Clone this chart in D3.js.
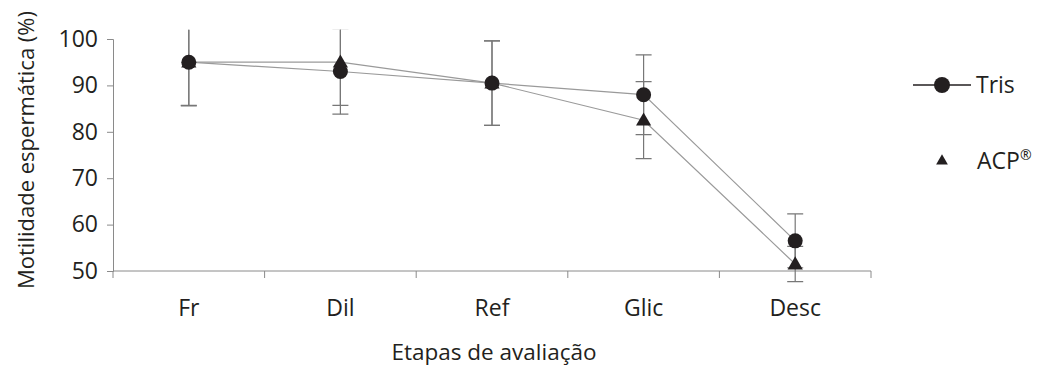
<!DOCTYPE html>
<html lang="pt">
<head>
<meta charset="utf-8">
<title>Motilidade espermática</title>
<script src="https://d3js.org/d3.v7.min.js"></script>
<style>
  body { margin: 0; background: #fff; }
  text { font-family: "Open Sans", Lato, sans-serif; fill: #231f20; }
</style>
</head>
<body>
<div id="chart"></div>
<script>
// stages of evaluation
var etapas = ["Fr", "Dil", "Ref", "Glic", "Desc"];
var yTicks = [50, 60, 70, 80, 90, 100];

// mean motility (%) and error (sd) per diluent
var trisMedia = [95, 93, 90.5, 88, 56.5];
var trisErro  = [9.4, 9.2, 9.1, 8.6, 5.8];
var acpMedia  = [95, 95, 90.5, 82.5, 51.5];
var acpErro   = [9.3, 9.3, 9.1, 8.3, 3.8];

var w = 1051, h = 370;
var margin = {top: 39, left: 113, right: 180, bottom: 99};
var innerW = 758, innerH = h - margin.top - margin.bottom;

var svg = d3.select("#chart").append("svg")
  .attr("width", w).attr("height", h);

var g = svg.append("g")
  .attr("transform", "translate(" + margin.left + "," + margin.top + ")");

var x = d3.scaleBand().domain(etapas).range([0, innerW]);
var y = d3.scaleLinear().domain([50, 100]).range([innerH, 0]);
var cx = function(d) { return x(d) + x.bandwidth() / 2; };

// clip so that error bars stop a little above 100
svg.append("clipPath").attr("id", "clip")
  .append("rect").attr("x", -20).attr("y", y(102)).attr("width", innerW + 40).attr("height", innerH + 40);

var axisColor = "#8a8a8a";

// y axis
var yAxis = g.append("g").call(d3.axisLeft(y).tickValues(yTicks).tickSize(6).tickPadding(9));
yAxis.select(".domain").attr("stroke", axisColor);
yAxis.selectAll(".tick line").attr("stroke", axisColor);
yAxis.selectAll("text").style("font-size", "23px").style("font-family", "'Open Sans', sans-serif").attr("fill", "#231f20");

// x axis: ticks at band boundaries
var xb = g.append("g").attr("transform", "translate(0," + innerH + ")");
xb.append("line").attr("x1", 0).attr("x2", innerW).attr("stroke", axisColor);
var edges = d3.range(etapas.length + 1).map(function(i) { return i * x.step(); });
xb.selectAll(".edge").data(edges).enter().append("line")
  .attr("x1", function(d) { return d; }).attr("x2", function(d) { return d; })
  .attr("y1", 0).attr("y2", 7).attr("stroke", axisColor);
xb.selectAll(".lab").data(etapas).enter().append("text")
  .attr("x", cx).attr("y", 45)
  .attr("text-anchor", "middle").style("font-size", "23px")
  .text(function(d) { return d; });

// axis titles
svg.append("text")
  .attr("x", 494).attr("y", 360)
  .attr("text-anchor", "middle").style("font-size", "22.5px")
  .text("Etapas de avaliação");
svg.append("text")
  .attr("transform", "translate(34,150) rotate(-90)")
  .attr("text-anchor", "middle").style("font-size", "22px")
  .text("Motilidade espermática (%)");

var plot = g.append("g").attr("clip-path", "url(#clip)");

function errorBars(media, erro) {
  var eb = plot.append("g");
  etapas.forEach(function(d, i) {
    var x0 = cx(d), lo = y(media[i] - erro[i]), hi = y(media[i] + erro[i]);
    eb.append("line").attr("x1", x0).attr("x2", x0).attr("y1", lo).attr("y2", hi)
      .attr("stroke", "#777").attr("stroke-width", 1.2);
    [lo, hi].forEach(function(yy) {
      eb.append("line").attr("x1", x0 - 8).attr("x2", x0 + 8).attr("y1", yy).attr("y2", yy)
        .attr("stroke", "#777").attr("stroke-width", 1.2);
    });
  });
}
errorBars(trisMedia, trisErro);
errorBars(acpMedia, acpErro);

var line = d3.line().x(function(d, i) { return cx(etapas[i]); }).y(function(d) { return y(d); });
g.append("path").datum(trisMedia).attr("d", line)
  .attr("fill", "none").attr("stroke", "#9a9a9a").attr("stroke-width", 1.2);
g.append("path").datum(acpMedia).attr("d", line)
  .attr("fill", "none").attr("stroke", "#9a9a9a").attr("stroke-width", 1.2);

var markFill = "#231f20";
g.selectAll(".tris").data(trisMedia).enter().append("circle")
  .attr("cx", function(d, i) { return cx(etapas[i]); })
  .attr("cy", function(d) { return y(d); })
  .attr("r", 7.5).attr("fill", markFill);

var tri = d3.symbol().type(d3.symbolTriangle).size(100);
g.selectAll(".acp").data(acpMedia).enter().append("path")
  .attr("d", tri)
  .attr("transform", function(d, i) { return "translate(" + cx(etapas[i]) + "," + (y(d) + 1) + ")"; })
  .attr("fill", markFill);

// legend
var lg = svg.append("g");
lg.append("line").attr("x1", 913).attr("x2", 971).attr("y1", 85).attr("y2", 85)
  .attr("stroke", markFill).attr("stroke-width", 1.5);
lg.append("circle").attr("cx", 942).attr("cy", 85).attr("r", 8).attr("fill", markFill);
lg.append("text").attr("x", 976).attr("y", 93).style("font-size", "23px").text("Tris");
lg.append("path").attr("d", d3.symbol().type(d3.symbolTriangle).size(60))
  .attr("transform", "translate(942,161)").attr("fill", markFill);
lg.append("text").attr("x", 977).attr("y", 169).style("font-size", "23px")
  .text("ACP").append("tspan").attr("dy", -9).style("font-size", "14px").text("®");
</script>
</body>
</html>
